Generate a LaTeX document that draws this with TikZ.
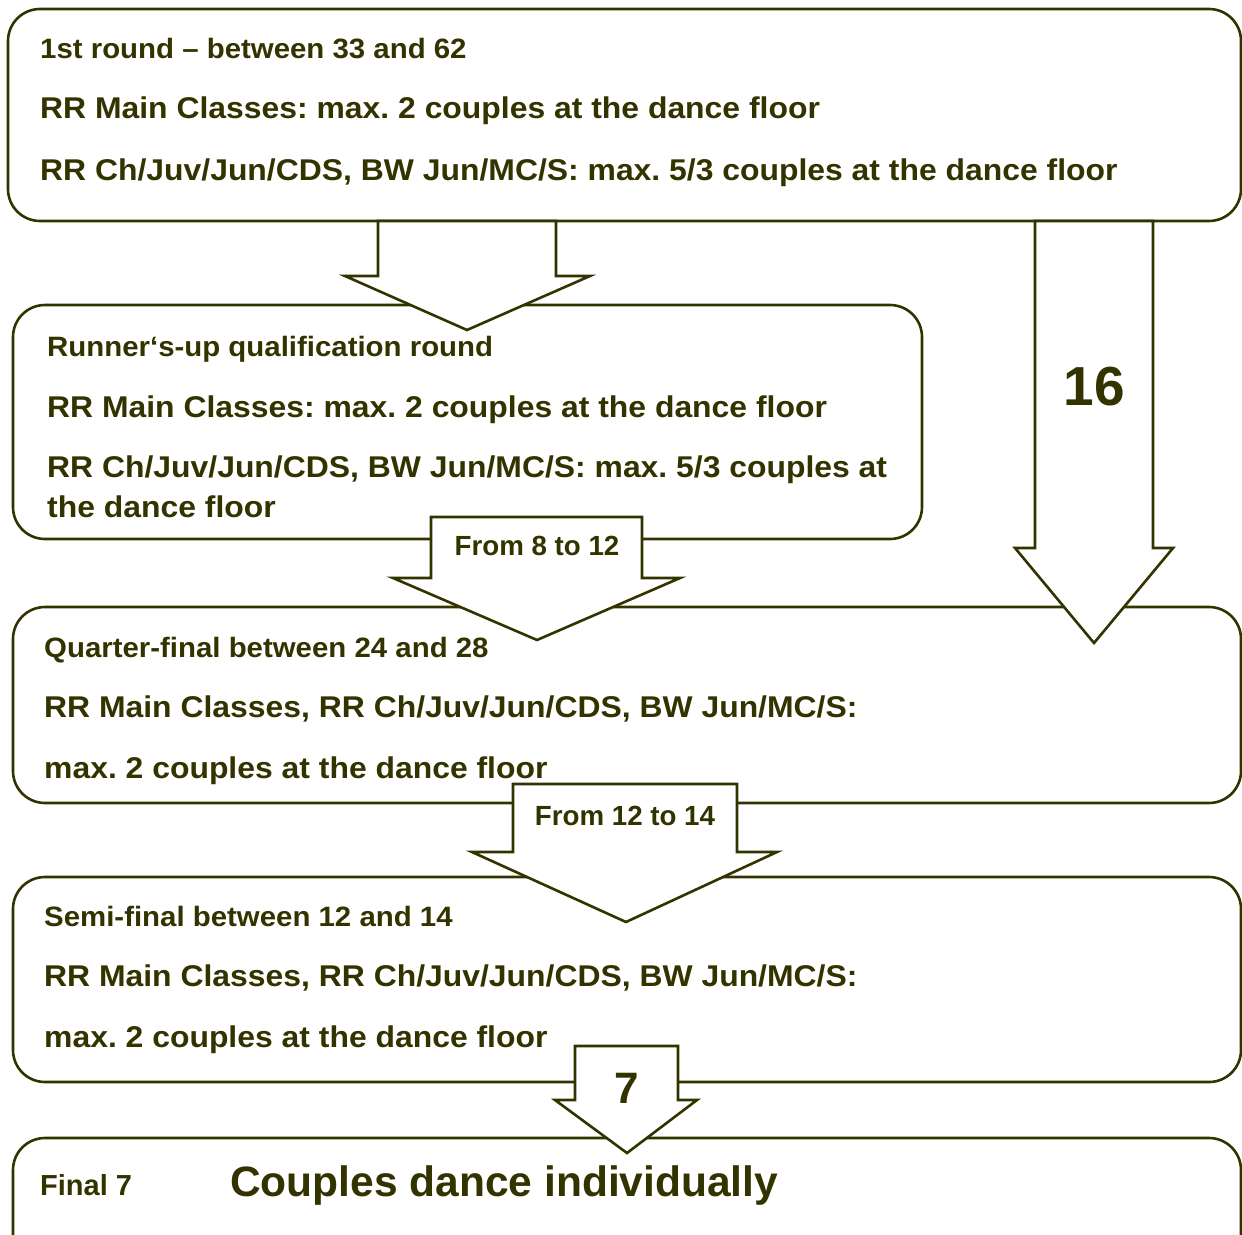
\documentclass[tikz,border=0pt]{standalone}
\usepackage{fontspec}
\setmainfont{Liberation Sans}
\newfontfamily\hdrf[FakeStretch=1.05]{Liberation Sans}
\newfontfamily\bodyf[FakeStretch=1.063]{Liberation Sans}
\newfontfamily\plainf{Liberation Sans}
\definecolor{oliv}{RGB}{51,51,0}
\tikzset{
  box/.style={draw=oliv, line width=2.6pt, rounded corners=32pt, fill=white},
  blockarrow/.style={draw=oliv, line width=2.6pt, fill=white, line join=miter},
  hdr/.style={font=\hdrf\bfseries\fontsize{28}{33}\selectfont, text=oliv, inner sep=0pt, anchor=base west},
  body/.style={font=\bodyf\bfseries\fontsize{30}{36}\selectfont, text=oliv, inner sep=0pt, anchor=base west},
  lbl/.style={font=\plainf\bfseries\fontsize{27.7}{33}\selectfont, text=oliv, inner sep=0pt, anchor=base},
  big/.style={font=\plainf\bfseries\fontsize{42.5}{50}\selectfont, text=oliv, inner sep=0pt, anchor=base west},
  num/.style={font=\plainf\bfseries\fontsize{55}{60}\selectfont, text=oliv, inner sep=0pt, anchor=base},
}
\begin{document}
\frenchspacing
\begin{tikzpicture}[x=1pt,y=-1pt]
\useasboundingbox (0,0) rectangle (1242,1234);
\clip (0,0) rectangle (1242,1234);
% boxes
\draw[box] (8,9) rectangle (1241,221);
\draw[box] (13,305) rectangle (922,539);
\draw[box] (13,607) rectangle (1241,803);
\draw[box] (13,877) rectangle (1241,1082);
\draw[box] (13,1138) rectangle (1241,1280);
% block arrows
\draw[blockarrow] (378,221) -- (556,221) -- (556,276) -- (590,276) -- (467,330) -- (345,276) -- (378,276) -- cycle;
\draw[blockarrow] (1035,221) -- (1153,221) -- (1153,548) -- (1173,548) -- (1094,643) -- (1015,548) -- (1035,548) -- cycle;
\draw[blockarrow] (431,517) -- (642,517) -- (642,578) -- (680,578) -- (537,640) -- (393,578) -- (431,578) -- cycle;
\draw[blockarrow] (513,784) -- (737,784) -- (737,852) -- (777,852) -- (626,922) -- (472,852) -- (513,852) -- cycle;
\draw[blockarrow] (575,1046) -- (678,1046) -- (678,1100) -- (697,1100) -- (627,1153) -- (555,1100) -- (575,1100) -- cycle;
% box 1 text
\node[hdr] (t11) at (40,58) {1st round – between 33 and 62};
\node[body] (t12) at (40,118) {RR Main Classes: max. 2 couples at the dance floor};
\node[body] (t13) at (40,180) {RR Ch/Juv/Jun/CDS, BW Jun/MC/S: max. 5/3 couples at the dance floor};
% box 2 text
\node[hdr] (t21) at (47,356) {Runner‘s-up qualification round};
\node[body] (t22) at (47,417) {RR Main Classes: max. 2 couples at the dance floor};
\node[body] (t23) at (47,477) {RR Ch/Juv/Jun/CDS, BW Jun/MC/S: max. 5/3 couples at};
\node[body] (t24) at (47,517) {the dance floor};
% box 3 text
\node[hdr] (t31) at (44,657) {Quarter-final between 24 and 28};
\node[body] (t32) at (44,717) {RR Main Classes, RR Ch/Juv/Jun/CDS, BW Jun/MC/S:};
\node[body] (t33) at (44,778) {max. 2 couples at the dance floor};
% box 4 text
\node[hdr] (t41) at (44,926) {Semi-final between 12 and 14};
\node[body] (t42) at (44,986) {RR Main Classes, RR Ch/Juv/Jun/CDS, BW Jun/MC/S:};
\node[body] (t43) at (44,1047) {max. 2 couples at the dance floor};
% final box text
\node[lbl, font=\plainf\bfseries\fontsize{29}{34}\selectfont, anchor=base west] (t51) at (40,1195) {Final 7};
\node[big] (t52) at (230,1196) {Couples dance individually};
% arrow labels
\node[num] (n16) at (1094,405) {16};
\node[lbl] (l812) at (537,555) {From 8 to 12};
\node[lbl] (l1214) at (625,825) {From 12 to 14};
\node[font=\plainf\bfseries\fontsize{44}{48}\selectfont, text=oliv, inner sep=0pt, anchor=base] (n7) at (627,1103) {7};
\end{tikzpicture}
\end{document}
